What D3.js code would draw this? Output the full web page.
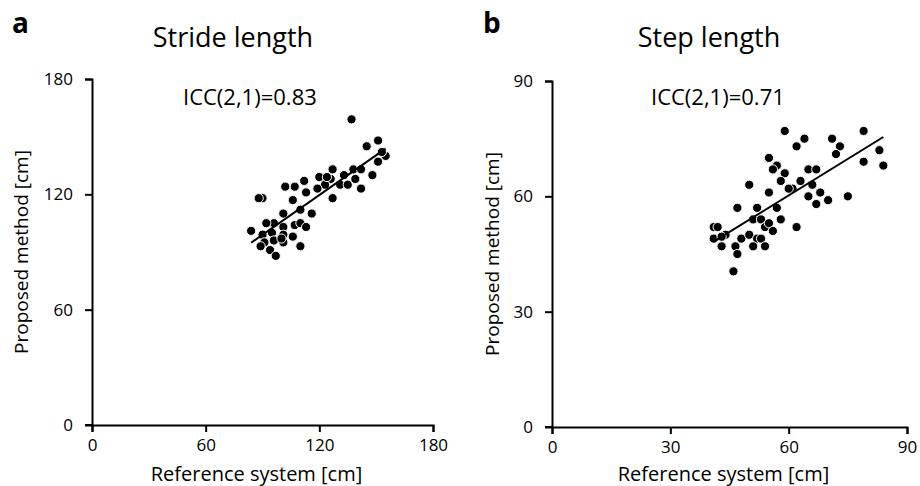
<!DOCTYPE html>
<html>
<head>
<meta charset="utf-8">
<script src="https://cdn.jsdelivr.net/npm/d3@7"></script>
<style>
  body { margin: 0; background: #fff; }
  svg { display: block; }
  text { font-family: "Open Sans", sans-serif; fill: #000; }
</style>
</head>
<body>
<div id="chart"></div>
<script>
// stride length (panel a): reference vs proposed, cm
const strideRef = [137, 151, 145, 155, 151, 148, 138, 142, 139, 142, 133, 131, 135, 127, 126, 120, 123, 119, 112, 107,
  102, 113, 127, 106, 90, 88, 110, 116, 101, 96, 92, 107, 110, 113, 101, 84, 95, 90, 101, 106,
  91, 101, 110, 94, 97, 96, 89, 153, 124, 100];
const strideProp = [159, 148, 145, 140, 137, 130, 133, 133, 128, 123, 130, 125, 125, 133, 128, 129, 125, 123, 127, 124,
  124, 121, 118, 117, 118, 118, 112, 110, 110, 105, 105, 104, 105, 103, 103, 101, 100, 99, 99, 98,
  95, 95, 93, 91, 88, 96, 93, 142, 129, 97];

// step length (panel b)
const stepRef = [59, 64, 62, 71, 73, 72, 79, 83, 79, 84, 55, 57, 56, 59, 58, 50, 55, 65, 67, 63,
  61, 60, 66, 68, 65, 70, 75, 67, 47, 52, 57, 58, 51, 53, 62, 41, 42, 54, 55, 56,
  44, 41, 43, 48, 50, 52, 53, 43, 46.5, 51, 54, 47, 46];
const stepProp = [77, 75, 73, 75, 73, 71, 77, 72, 69, 68, 70, 68, 67, 66, 64, 63, 61, 67, 67, 64,
  62, 62, 63, 61, 60, 59, 60, 58, 57, 57, 57, 54, 54, 54, 52, 52, 52, 52, 53, 51,
  50, 49, 49.5, 49, 50, 49, 49, 47, 47, 47, 47, 45, 40.5];

const strideTicks = [0, 60, 120, 180];
const stepTicks = [0, 30, 60, 90];

const panels = [
  { letter: "a", title: "Stride length", icc: "ICC(2,1)=0.83", xs: strideRef, ys: strideProp, ticks: strideTicks,
    x0: 92, x1: 433, y0: 425, y1: 79, titleX: 233, iccX: 183, letterX: 12, yLabX: 28 },
  { letter: "b", title: "Step length", icc: "ICC(2,1)=0.71", xs: stepRef, ys: stepProp, ticks: stepTicks,
    x0: 552, x1: 907, y0: 427, y1: 81, titleX: 709, iccX: 651, letterX: 483, yLabX: 499 }
];

const svg = d3.select("#chart").append("svg")
  .attr("width", 920)
  .attr("height", 486);

// least squares fit
function fit(xs, ys) {
  const mx = d3.mean(xs), my = d3.mean(ys);
  let sxy = 0, sxx = 0;
  xs.forEach((x, i) => { sxy += (x - mx) * (ys[i] - my); sxx += (x - mx) * (x - mx); });
  const b = sxy / sxx;
  return { b: b, a: my - b * mx };
}

panels.forEach(p => {
  const max = p.ticks[p.ticks.length - 1];
  const x = d3.scaleLinear().domain([0, max]).range([p.x0, p.x1]);
  const y = d3.scaleLinear().domain([0, max]).range([p.y0, p.y1]);
  const g = svg.append("g");

  g.append("text")
    .attr("x", p.letterX).attr("y", 33)
    .attr("font-family", "Liberation Sans, Arial, sans-serif")
    .attr("font-weight", "bold")
    .attr("font-size", 28)
    .text(p.letter);

  g.append("text")
    .attr("x", p.titleX).attr("y", 47)
    .attr("text-anchor", "middle")
    .attr("font-size", 27)
    .text(p.title);

  const xAxis = g.append("g")
    .attr("transform", `translate(0,${p.y0})`)
    .call(d3.axisBottom(x).tickValues(p.ticks).tickSize(7).tickPadding(7));
  const yAxis = g.append("g")
    .attr("transform", `translate(${p.x0},0)`)
    .call(d3.axisLeft(y).tickValues(p.ticks.slice(1)).tickSize(7).tickPadding(12));
  // y axis "0" label next to the x axis
  yAxis.append("text")
    .attr("x", -19).attr("y", y(0)).attr("dy", "0.35em")
    .attr("text-anchor", "end")
    .attr("font-size", 17)
    .text("0");
  yAxis.append("line")
    .attr("x1", -7).attr("x2", 0).attr("y1", y(0)).attr("y2", y(0))
    .attr("stroke", "#000").attr("stroke-width", 2);

  [xAxis, yAxis].forEach(a => {
    a.selectAll(".domain").attr("stroke", "#000").attr("stroke-width", 2);
    a.selectAll(".tick line").attr("stroke", "#000").attr("stroke-width", 2);
    a.selectAll(".tick text").attr("font-family", "Open Sans, sans-serif").attr("font-size", 17).attr("fill", "#000");
  });

  g.append("text")
    .attr("x", (p.x0 + p.x1) / 2 - 6).attr("y", 481)
    .attr("text-anchor", "middle")
    .attr("font-size", 20)
    .text("Reference system [cm]");

  g.append("text")
    .attr("transform", `translate(${p.yLabX},${(p.y0 + p.y1) / 2}) rotate(-90)`)
    .attr("text-anchor", "middle")
    .attr("font-size", 19)
    .text("Proposed method [cm]");

  g.append("text")
    .attr("x", p.iccX).attr("y", 105)
    .attr("font-size", 22)
    .text(p.icc);

  const pts = p.xs.map((v, i) => [v, p.ys[i]]);
  g.append("g").selectAll("circle")
    .data(pts)
    .join("circle")
    .attr("cx", d => x(d[0]))
    .attr("cy", d => y(d[1]))
    .attr("r", 4.6)
    .attr("fill", "#000")
    .attr("stroke", "#fff")
    .attr("stroke-width", 1);

  const f = fit(p.xs, p.ys);
  const ext = d3.extent(p.xs);
  g.append("line")
    .attr("x1", x(ext[0])).attr("y1", y(f.a + f.b * ext[0]))
    .attr("x2", x(ext[1])).attr("y2", y(f.a + f.b * ext[1]))
    .attr("stroke", "#000")
    .attr("stroke-width", 2);
});
</script>
</body>
</html>
